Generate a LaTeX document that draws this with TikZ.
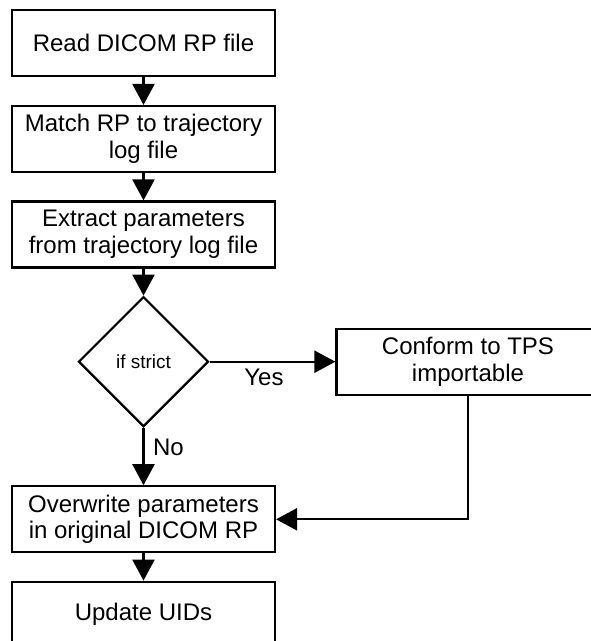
\documentclass[tikz,border=0pt]{standalone}
\usepackage{fontspec}
\setmainfont{Liberation Sans}
\usepackage{tikz}
\tikzset{every picture/.style={line width=2.2pt}}
\tikzset{stepbox/.style={draw, rectangle, minimum width=263pt, minimum height=66pt, align=center, inner sep=2pt, font=\fontsize{24}{26.7}\selectfont}}
\tikzset{ifbox/.style={draw, diamond, minimum width=130pt, minimum height=130pt, inner sep=0pt, font=\fontsize{19}{22}\selectfont}}
\tikzset{lbl/.style={inner sep=0pt, font=\fontsize{24}{26.7}\selectfont}}
\tikzset{arr/.style={-{Triangle[length=21pt, width=22pt]}}}
\usetikzlibrary{arrows.meta, shapes.geometric}

\begin{document}
\begin{tikzpicture}[x=1pt, y=-1pt]
\clip (0,0) rectangle (591,641);
\node[stepbox] (1) at (143.5,43) {Read DICOM RP file};
\node[stepbox] (2) at (143.5,139) {Match RP to trajectory\\log file};
\node[stepbox] (3) at (143.5,234.5) {Extract parameters\\from trajectory log file};
\node[ifbox] (4) at (143.5,361.7) {if strict};
\node[stepbox] (5) at (468,361.7) {Conform to TPS\\importable};
\node[stepbox] (6) at (143.5,519.3) {Overwrite parameters\\in original DICOM RP};
\node[stepbox] (7) at (143.5,614.7) {Update UIDs};
\foreach \i/\j in {1/2, 2/3, 3/4, 4/6, 6/7} {
\draw[arr] (\i) -- (\j);
}
\draw[arr] (4) -- (5);
\draw[arr] (5) |- (6);
\node[lbl] (yes) at (264,377) {Yes};
\node[lbl] (no) at (168.5,447) {No};
\end{tikzpicture}
\end{document}
